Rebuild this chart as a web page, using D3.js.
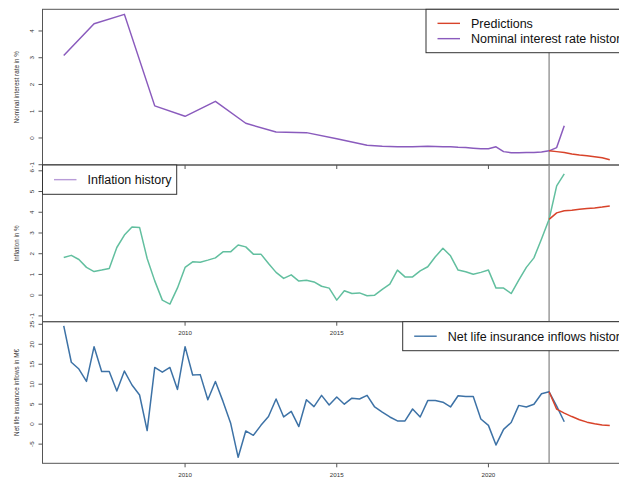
<!DOCTYPE html>
<html>
<head>
<meta charset="utf-8">
<script src="https://cdn.jsdelivr.net/npm/d3@7/dist/d3.min.js"></script>
<style>
  html, body { margin: 0; padding: 0; background: #fff; }
  svg { display: block; font-family: "Liberation Sans", Arial, sans-serif; }
</style>
</head>
<body>
<svg id="chart" width="619" height="477"></svg>
<script>
// ---- data ----------------------------------------------------------------
// quarterly observation dates, 2006Q1 .. 2022Q3
const quarters = d3.range(67).map(i => 2006 + i / 4);

const inflation = [
  1.82, 1.92, 1.72, 1.34, 1.14, 1.21, 1.29, 2.30, 2.90, 3.29, 3.27, 1.77,
  0.69, -0.24, -0.43, 0.35, 1.34, 1.61, 1.59, 1.69, 1.80, 2.09, 2.09, 2.42,
  2.33, 1.98, 1.98, 1.53, 1.10, 0.81, 0.98, 0.68, 0.72, 0.64, 0.43, 0.34,
  -0.24, 0.21, 0.08, 0.11, -0.03, 0.00, 0.28, 0.53, 1.21, 0.88, 0.88, 1.17,
  1.37, 1.85, 2.26, 1.90, 1.21, 1.13, 1.01, 1.10, 1.21, 0.34, 0.34, 0.08,
  0.72, 1.34, 1.80, 2.71, 3.66, 5.27, 5.85
];

const insurance = [
  24.6, 15.5, 13.8, 10.7, 19.4, 13.2, 13.2, 8.3, 13.3, 9.8, 7.3, -1.6,
  14.2, 13.0, 14.2, 8.7, 19.4, 12.3, 12.4, 6.1, 10.7, 5.7, 0.3, -8.3,
  -1.7, -2.8, -0.3, 1.9, 6.3, 1.8, 3.2, -0.6, 6.1, 4.4, 7.2, 4.8,
  6.8, 5.0, 6.5, 6.3, 7.2, 4.3, 3.0, 1.8, 0.8, 0.8, 3.8, 1.8,
  5.9, 5.9, 5.5, 4.3, 7.1, 6.9, 6.9, 1.3, -0.3, -5.2, -1.3, 0.4,
  4.7, 4.3, 5.0, 7.6, 8.1, 4.5, 0.6
];

// nominal rate: yearly until 2016, quarterly afterwards
const rateYears = d3.range(2006, 2017).concat(d3.range(26).map(i => 2016.25 + i / 4));
const rate = [
  3.08, 4.27, 4.62, 1.20, 0.81, 1.37, 0.55, 0.22, 0.20, -0.03, -0.27,
  -0.29, -0.31, -0.32, -0.33, -0.33, -0.33, -0.32, -0.31, -0.32, -0.33,
  -0.33, -0.35, -0.36, -0.38, -0.40, -0.40, -0.33, -0.51, -0.55, -0.55,
  -0.54, -0.54, -0.52, -0.48, -0.36, 0.46
];

// forecasts, 2022Q1 .. 2024Q1
const forecastQuarters = d3.range(9).map(i => 2022 + i / 4);
const rateForecast      = [-0.48, -0.51, -0.54, -0.60, -0.64, -0.66, -0.70, -0.74, -0.81];
const inflationForecast = [3.66, 3.97, 4.07, 4.10, 4.14, 4.18, 4.21, 4.25, 4.30];
const insuranceForecast = [8.1, 3.75, 2.75, 1.9, 1.1, 0.5, 0.1, -0.2, -0.35];

const cutoffYear = 2022;
const yearTicks = [2010, 2015, 2020];
const rateTicks = [-1, 0, 1, 2, 3, 4];
const inflationTicks = [-1, 0, 1, 2, 3, 4, 5, 6];
const insuranceTicks = [-5, 0, 5, 10, 15, 20, 25];

// ---- styling -------------------------------------------------------------
const COL = {
  rate: "#8a5bbd",
  inflation: "#62bf9f",
  insurance: "#3d72a6",
  forecast: "#d8432a",
  legendInflation: "#b89cd8",
  frame: "#555",
  vline: "#8c8c8c",
  text: "#333"
};

const svg = d3.select("#chart");
const x = d3.scaleLinear().domain([2005.3, 2024.7]).range([42.5, 631]);

const panels = [
  { top: 9.3,  bottom: 165,   domain: [-1.01, 4.81], ticks: rateTicks,
    label: "Nominal interest rate in %",
    series: { xs: rateYears, ys: rate, color: COL.rate },
    forecast: rateForecast },
  { top: 165,  bottom: 321.7, domain: [-1.28, 6.28], ticks: inflationTicks,
    label: "Inflation in %",
    series: { xs: quarters, ys: inflation, color: COL.inflation },
    forecast: inflationForecast },
  { top: 321.7, bottom: 463.3, domain: [-9.8, 25.65], ticks: insuranceTicks,
    label: "Net life insurance inflows in M\u20ac",
    series: { xs: quarters, ys: insurance, color: COL.insurance },
    forecast: insuranceForecast }
];

const legends = [
  { x: 426, y: 9.3, w: 220, h: 43.4,
    items: [ { text: "Predictions", color: COL.forecast },
             { text: "Nominal interest rate history", color: COL.rate } ] },
  { x: 42.5, y: 165, w: 134.2, h: 29.3,
    items: [ { text: "Inflation history", color: COL.legendInflation } ] },
  { x: 402.7, y: 321.7, w: 260, h: 29,
    items: [ { text: "Net life insurance inflows history", color: COL.insurance } ] }
];

function drawLegend(g, lg) {
  g.append("rect")
    .attr("x", lg.x).attr("y", lg.y).attr("width", lg.w).attr("height", lg.h)
    .attr("fill", "#fff").attr("stroke", "#333").attr("stroke-width", 1);
  const n = lg.items.length;
  lg.items.forEach((it, i) => {
    const cy = lg.y + lg.h / 2 + (i - (n - 1) / 2) * 15.3;
    g.append("line")
      .attr("x1", lg.x + 11.5).attr("x2", lg.x + 34)
      .attr("y1", cy).attr("y2", cy)
      .attr("stroke", it.color).attr("stroke-width", 1.4);
    g.append("text")
      .attr("x", lg.x + 45).attr("y", cy + 4.5)
      .attr("font-size", 12.5).attr("fill", "#111")
      .text(it.text);
  });
}

// a year label is skipped when the next panel's legend box sits on top of it
function hiddenByLegend(px, py, lg) {
  return lg && px - 8 > lg.x && py - 6 > lg.y && py < lg.y + lg.h;
}

panels.forEach((p, i) => {
  const g = svg.append("g");
  const y = d3.scaleLinear().domain(p.domain).range([p.bottom, p.top]);

  // plot frame (right side runs past the window edge)
  g.append("rect")
    .attr("x", x.range()[0]).attr("y", p.top)
    .attr("width", x.range()[1] - x.range()[0]).attr("height", p.bottom - p.top)
    .attr("fill", "none").attr("stroke", COL.frame).attr("stroke-width", 1);

  // y axis
  const ya = g.append("g");
  p.ticks.forEach(t => {
    const ty = y(t);
    ya.append("line").attr("x1", x.range()[0] - 4).attr("x2", x.range()[0])
      .attr("y1", ty).attr("y2", ty).attr("stroke", COL.frame).attr("stroke-width", 1);
    ya.append("text")
      .attr("transform", `translate(34.2,${ty}) rotate(-90)`)
      .attr("text-anchor", "middle").attr("font-size", 6.2).attr("fill", COL.text)
      .text(t);
  });
  g.append("text")
    .attr("transform", `translate(19.2,${(p.top + p.bottom) / 2}) rotate(-90)`)
    .attr("text-anchor", "middle").attr("font-size", 6.3).attr("fill", COL.text)
    .text(p.label);

  // x axis
  yearTicks.forEach(t => {
    g.append("line").attr("x1", x(t)).attr("x2", x(t))
      .attr("y1", p.bottom).attr("y2", p.bottom + 4)
      .attr("stroke", COL.frame).attr("stroke-width", 1);
    const ly = p.bottom + 13.6;
    if (hiddenByLegend(x(t), ly, legends[i + 1])) return;
    g.append("text")
      .attr("x", x(t)).attr("y", ly)
      .attr("text-anchor", "middle").attr("font-size", 6.2).attr("fill", COL.text)
      .text(t);
  });

  // cut-off marker between history and forecast
  g.append("line").attr("x1", x(cutoffYear)).attr("x2", x(cutoffYear))
    .attr("y1", p.top).attr("y2", p.bottom)
    .attr("stroke", COL.vline).attr("stroke-width", 1.3);

  const line = d3.line().x(d => x(d[0])).y(d => y(d[1]));
  g.append("path")
    .datum(p.series.xs.map((v, k) => [v, p.series.ys[k]]))
    .attr("d", line).attr("fill", "none")
    .attr("stroke", p.series.color).attr("stroke-width", 1.5)
    .attr("stroke-linejoin", "round");
  g.append("path")
    .datum(forecastQuarters.map((v, k) => [v, p.forecast[k]]))
    .attr("d", line).attr("fill", "none")
    .attr("stroke", COL.forecast).attr("stroke-width", 1.5)
    .attr("stroke-linejoin", "round");

  drawLegend(g, legends[i]);
});
</script>
</body>
</html>
